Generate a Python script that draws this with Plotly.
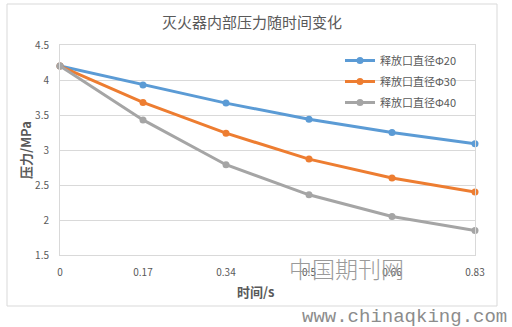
import plotly.graph_objects as go

# Time (s) categories and pressure (MPa) per outlet diameter
time_labels = ["0", "0.17", "0.34", "0.5", "0.66", "0.83"]
p_d20 = [4.2, 3.93, 3.67, 3.44, 3.25, 3.09]
p_d30 = [4.2, 3.68, 3.24, 2.87, 2.60, 2.40]
p_d40 = [4.2, 3.43, 2.79, 2.36, 2.05, 1.85]
series_names = ["释放口直径Φ20", "释放口直径Φ30", "释放口直径Φ40"]
series_colors = ["#5B9BD5", "#ED7D31", "#A5A5A5"]
y_ticks = [1.5, 2, 2.5, 3, 3.5, 4, 4.5]

W, H = 512, 327
L, R, T, B = 60, 475, 45, 255  # plot area in pixels

FONT = "Noto Sans CJK SC"
TXT = "#595959"

fig = go.Figure()
for i, (name, vals, col) in enumerate(zip(series_names, [p_d20, p_d30, p_d40], series_colors)):
    fig.add_trace(go.Scatter(
        x=list(range(len(time_labels))), y=vals, name=name, mode="lines+markers",
        line=dict(color=col, width=3),
        marker=dict(color=col, size=7, symbol="circle"),
        cliponaxis=False, legendgroup=f"g{i}",
    ))


def px_x(p):
    return (p - L) / (R - L)


def px_y(p):
    return (B - p) / (B - T)


fig.update_layout(
    width=W, height=H,
    margin=dict(l=L, r=W - R, t=T, b=H - B, pad=0),
    paper_bgcolor="white", plot_bgcolor="white",
    font=dict(family=FONT, color=TXT, size=10),
    showlegend=True,
    legend=dict(
        x=px_x(340), y=px_y(46), xanchor="left", yanchor="top",
        bgcolor="rgba(0,0,0,0)", borderwidth=0,
        font=dict(size=11, color=TXT, family=FONT),
        tracegroupgap=2, itemwidth=30,
    ),
    xaxis=dict(
        range=[0, len(time_labels) - 1],
        tickmode="array", tickvals=list(range(len(time_labels))), ticktext=time_labels,
        showgrid=False, zeroline=False,
        showline=True, linecolor="#D9D9D9", linewidth=1, mirror=True,
        ticks="", tickfont=dict(size=10, color=TXT),
        ticklabelstandoff=8,
    ),
    yaxis=dict(
        range=[1.5, 4.5], tickmode="array", tickvals=y_ticks,
        ticktext=[f"{v:g}" for v in y_ticks],
        showgrid=True, gridcolor="#D9D9D9", gridwidth=1, zeroline=False,
        showline=True, linecolor="#D9D9D9", linewidth=1, mirror=True,
        ticks="", tickfont=dict(size=10, color=TXT),
        ticklabelstandoff=8,
    ),
    shapes=[dict(
        type="rect", xref="paper", yref="paper",
        x0=px_x(7), x1=px_x(497), y0=px_y(306), y1=px_y(4),
        line=dict(color="#D9D9D9", width=1), fillcolor="rgba(0,0,0,0)", layer="below",
    )],
    annotations=[
        dict(text="灭火器内部压力随时间变化", xref="paper", yref="paper",
             x=px_x(252), y=px_y(22), xanchor="center", yanchor="middle",
             showarrow=False, font=dict(size=15, color=TXT, family=FONT)),
        dict(text="<b>压力/MPa</b>", xref="paper", yref="paper",
             x=px_x(25), y=px_y(150), xanchor="center", yanchor="middle",
             textangle=-90, showarrow=False, font=dict(size=13, color=TXT, family=FONT)),
        dict(text="<b>时间/s</b>", xref="paper", yref="paper",
             x=px_x(255), y=px_y(291), xanchor="center", yanchor="middle",
             showarrow=False, font=dict(size=13, color=TXT, family=FONT)),
        dict(text="中国期刊网", xref="paper", yref="paper",
             x=px_x(346), y=px_y(268), xanchor="center", yanchor="middle",
             showarrow=False,
             font=dict(size=23, color="#9A9A9A", family=FONT, weight=300)),
        dict(text="www.chinaqking.com", xref="paper", yref="paper",
             x=px_x(509), y=px_y(317), xanchor="right", yanchor="middle",
             showarrow=False, font=dict(size=19, color="#8C8C8C", family="Liberation Mono")),
    ],
)

fig.write_html("out.html")
